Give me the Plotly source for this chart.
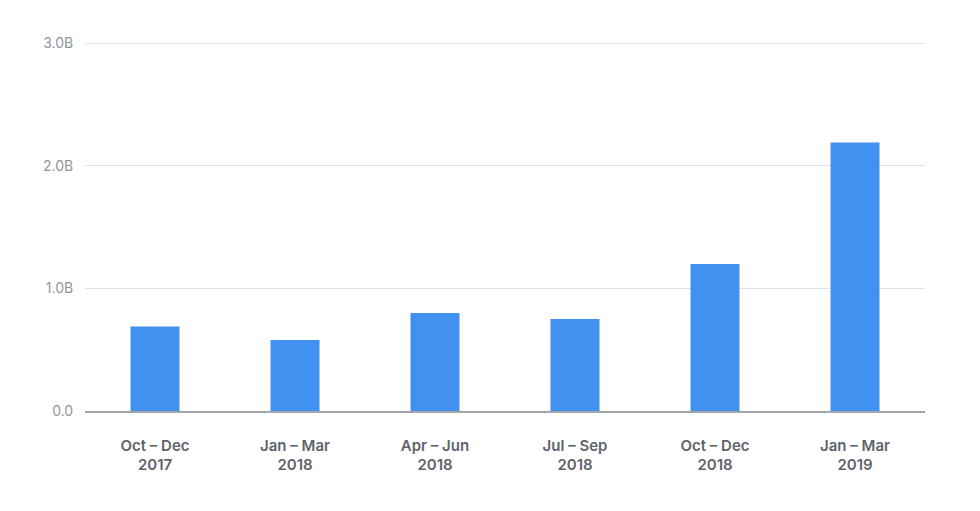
import plotly.graph_objects as go

quarters = ['Oct – Dec<br>2017', 'Jan – Mar<br>2018', 'Apr – Jun<br>2018',
            'Jul – Sep<br>2018', 'Oct – Dec<br>2018', 'Jan – Mar<br>2019']
values = [0.69e9, 0.58e9, 0.80e9, 0.75e9, 1.20e9, 2.19e9]

tick_vals = [0, 1e9, 2e9, 3e9]
tick_text = ['0.0', '1.0B', '2.0B', '3.0B']

fig = go.Figure(data=go.Bar(x=quarters,
                            y=values,
                            marker=dict(color='#4291f0', line=dict(width=0)),
                            hoverinfo='x+y'))

# page body has an 8px margin, so margins are measured from there
fig.update_layout(
    margin=dict(l=77, r=47, t=34, b=92),
    bargap=0.65,
    plot_bgcolor='white',
    paper_bgcolor='white',
    showlegend=False,
    font=dict(family='Inter, Roboto, sans-serif')
)
fig.update_xaxes(
    showgrid=False,
    showline=True,
    linecolor='#a4a4ab',
    linewidth=1.5,
    ticks='outside',
    ticklen=20,
    tickcolor='rgba(0,0,0,0)',
    tickfont=dict(size=15, color='#5f636b', weight=600)
)
fig.update_yaxes(
    range=[0, 3.01e9],
    tickvals=tick_vals,
    ticktext=tick_text,
    showgrid=True,
    gridcolor='#dfe2e7',
    gridwidth=1,
    zeroline=False,
    ticks='outside',
    ticklen=8,
    tickcolor='rgba(0,0,0,0)',
    tickfont=dict(size=14, color='#91959c')
)

fig.write_html('out.html')
